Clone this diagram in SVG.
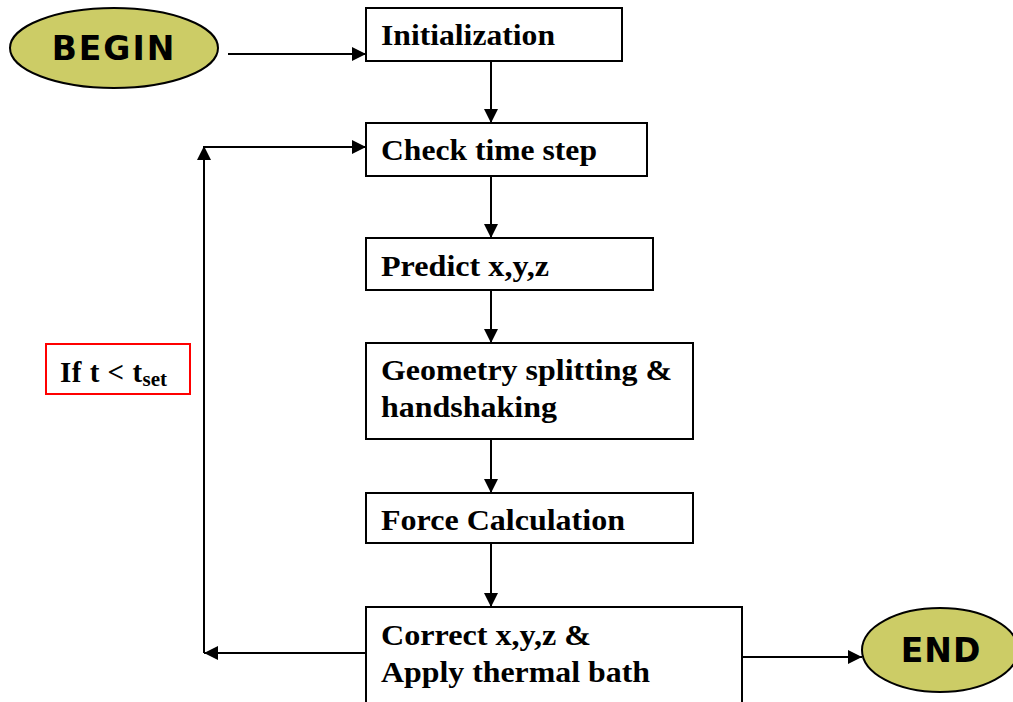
<svg xmlns="http://www.w3.org/2000/svg" width="1013" height="702" viewBox="0 0 1013 702">
<defs>
<marker id="ah" viewBox="0 0 10 10" refX="10" refY="5" markerWidth="14" markerHeight="14" markerUnits="userSpaceOnUse" orient="auto">
<path d="M0,0 L10,5 L0,10 z" fill="#000"/>
</marker>
<style>
.box{fill:#fff;stroke:#000;stroke-width:2}
.term{fill:#cccc66;stroke:#000;stroke-width:2}
.lbl{font-family:"Liberation Serif","Times New Roman",serif;font-weight:bold;font-size:29px;fill:#000}
.tl{font-family:"DejaVu Sans",Verdana,sans-serif;font-weight:bold;font-size:33px;fill:#000}
.con{fill:none;stroke:#000;stroke-width:2}
</style>
</defs>
<rect width="1013" height="702" fill="#fff"/>
<g id="begin">
<ellipse class="term" cx="114" cy="48" rx="104" ry="40"/>
<text class="tl" x="114" y="60" text-anchor="middle" letter-spacing="2">BEGIN</text>
</g>
<g id="init">
<rect class="box" x="366" y="8" width="256" height="53"/>
<text class="lbl" x="381" y="45" textLength="174" lengthAdjust="spacingAndGlyphs">Initialization</text>
</g>
<g id="check">
<rect class="box" x="366" y="123" width="281" height="53"/>
<text class="lbl" x="381" y="160" textLength="216" lengthAdjust="spacingAndGlyphs">Check time step</text>
</g>
<g id="predict">
<rect class="box" x="366" y="238" width="287" height="52"/>
<text class="lbl" x="381" y="276" textLength="168" lengthAdjust="spacingAndGlyphs">Predict x,y,z</text>
</g>
<g id="geometry">
<rect class="box" x="366" y="343" width="327" height="96"/>
<text class="lbl" x="381" y="380" textLength="291" lengthAdjust="spacingAndGlyphs">Geometry splitting &amp;</text>
<text class="lbl" x="381" y="417" textLength="176" lengthAdjust="spacingAndGlyphs">handshaking</text>
</g>
<g id="force">
<rect class="box" x="366" y="493" width="327" height="50"/>
<text class="lbl" x="381" y="530" textLength="244" lengthAdjust="spacingAndGlyphs">Force Calculation</text>
</g>
<g id="correct">
<rect class="box" x="366" y="607" width="376" height="100"/>
<text class="lbl" x="381" y="645" textLength="210" lengthAdjust="spacingAndGlyphs">Correct x,y,z &amp;</text>
<text class="lbl" x="381" y="682" textLength="269" lengthAdjust="spacingAndGlyphs">Apply thermal bath</text>
</g>
<g id="end">
<ellipse class="term" cx="940" cy="650" rx="78" ry="42"/>
<text class="tl" x="941" y="662" text-anchor="middle" letter-spacing="1">END</text>
</g>
<g id="condition">
<rect x="46" y="344" width="144" height="50" fill="#fff" stroke="#ff0000" stroke-width="2"/>
<text class="lbl" x="60" y="382" font-size="31" letter-spacing="0.5">If t &lt; t<tspan font-size="21" dy="4" letter-spacing="0">set</tspan></text>
</g>
<g id="connectors">
<line class="con" x1="228" y1="54" x2="366" y2="54" marker-end="url(#ah)"/>
<line class="con" x1="491" y1="61" x2="491" y2="123" marker-end="url(#ah)"/>
<line class="con" x1="491" y1="176" x2="491" y2="238" marker-end="url(#ah)"/>
<line class="con" x1="491" y1="290" x2="491" y2="343" marker-end="url(#ah)"/>
<line class="con" x1="491" y1="439" x2="491" y2="493" marker-end="url(#ah)"/>
<line class="con" x1="491" y1="543" x2="491" y2="607" marker-end="url(#ah)"/>
<line class="con" x1="742" y1="657" x2="862" y2="657" marker-end="url(#ah)"/>
<line class="con" x1="366" y1="653" x2="204" y2="653" marker-end="url(#ah)"/>
<line class="con" x1="204" y1="653" x2="204" y2="146" marker-end="url(#ah)"/>
<line class="con" x1="204" y1="147" x2="366" y2="147" marker-end="url(#ah)"/>
</g>
</svg>
